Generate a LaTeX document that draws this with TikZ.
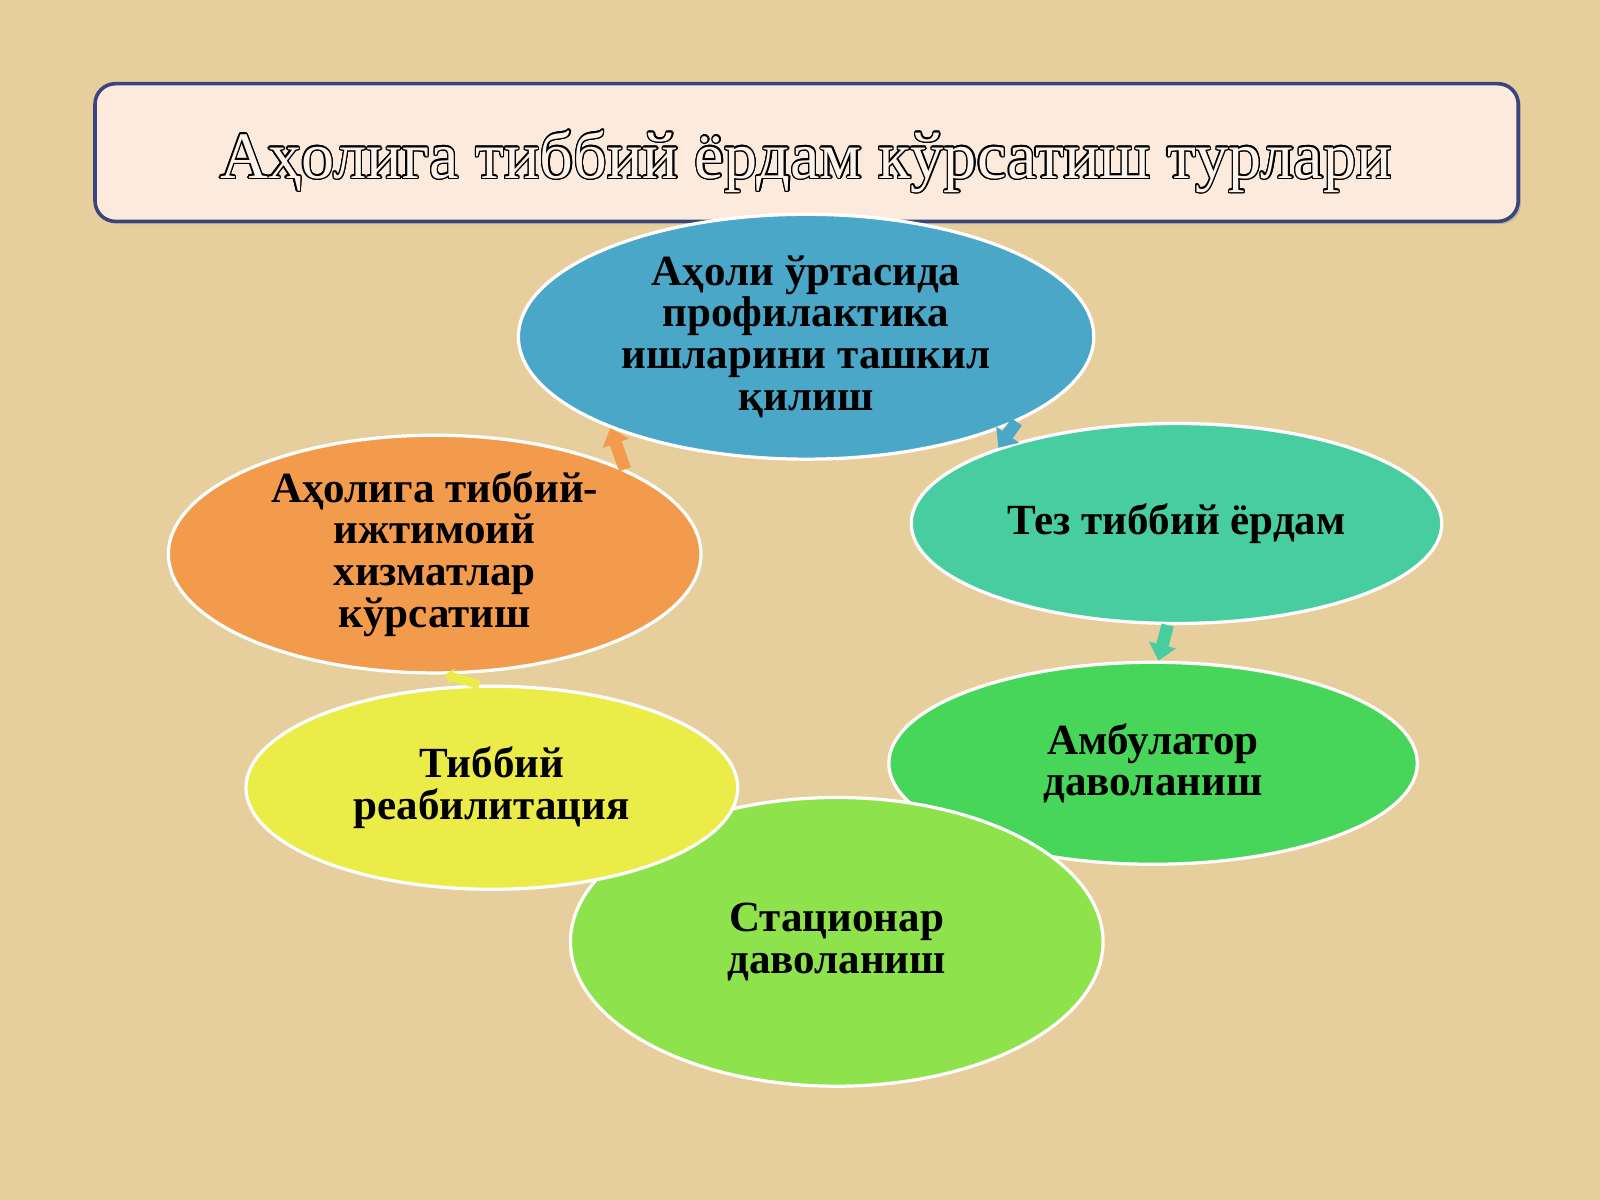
\documentclass[tikz,border=0pt]{standalone}
\usepackage{fontspec}
\setmainfont{Liberation Serif}
\usepackage{contour}
\contourlength{0.75pt}
\usetikzlibrary{shapes.geometric,arrows.meta,shadows}
\definecolor{bgtan}{HTML}{E6CF9D}
\definecolor{titlefill}{HTML}{FCEBDD}
\definecolor{titleline}{HTML}{38457E}
\definecolor{titletext}{HTML}{FDF3EA}
\definecolor{cblue}{HTML}{4AA7C7}
\definecolor{cteal}{HTML}{48CDA0}
\definecolor{cgreen}{HTML}{48D65A}
\definecolor{clime}{HTML}{8EE24C}
\definecolor{cyellow}{HTML}{EBEC48}
\definecolor{corange}{HTML}{F39B4C}
\tikzset{
  ell/.style={ellipse, draw=white, line width=1.8pt, inner sep=0pt, align=center,
    font=\bfseries\fontsize{24}{23.3}\selectfont, text=black},
  titlebox/.style={rectangle, rounded corners=0.4cm, draw=titleline, line width=2pt,
    fill=titlefill, minimum width=27.9cm, minimum height=2.7cm, inner sep=0pt,
    drop shadow={shadow xshift=1.5pt, shadow yshift=-1.5pt, opacity=0.35}},
  arr/.style={line width=7pt, -{Triangle[length=9pt,width=15pt]}}
}
\begin{document}
\begin{tikzpicture}[x=0.02cm,y=-0.02cm]
\useasboundingbox (0,0) rectangle (1568,1176);
\fill[bgtan] (0,0) rectangle (1568,1176);
\node[titlebox] (title) at (790.5,149.5) {};
\node[font=\fontsize{37}{40}\selectfont] (titletxt) at (790,159)
  {\contour{black}{\textcolor{titletext}{Аҳолига тиббий ёрдам кўрсатиш турлари}}};

\node[ell, fill=cblue, minimum width=11.28cm, minimum height=4.8cm] (top) at (790,330)
  {Аҳоли ўртасида\\профилактика\\ишларини ташкил\\қилиш};
\node[ell, fill=cteal, minimum width=10.4cm, minimum height=3.92cm] (teal) at (1153,513)
  {Тез тиббий ёрдам};
\node[ell, fill=cgreen, minimum width=10.36cm, minimum height=3.96cm] (amb) at (1130,748)
  {Амбулатор\\даволаниш};
\node[ell, fill=clime, minimum width=10.44cm, minimum height=5.66cm] (stat) at (820,923)
  {Стационар\\даволаниш};
\node[ell, fill=cyellow, minimum width=9.64cm, minimum height=3.98cm] (yel) at (482,772)
  {Тиббий\\реабилитация};
\node[ell, fill=corange, minimum width=10.44cm, minimum height=4.66cm] (ora) at (426,543)
  {Аҳолига тиббий-\\ижтимоий\\хизматлар\\кўрсатиш};

\draw[arr, corange] (ora.24) -- (top.205);
\draw[arr, cblue] (top.338) -- (teal.157);
\draw[arr, cteal] (teal.265) -- (amb.87);
\draw[line width=5pt, -{Triangle[length=4pt,width=9pt]}, cyellow] (yel.97) -- (ora.275);
\end{tikzpicture}
\end{document}
